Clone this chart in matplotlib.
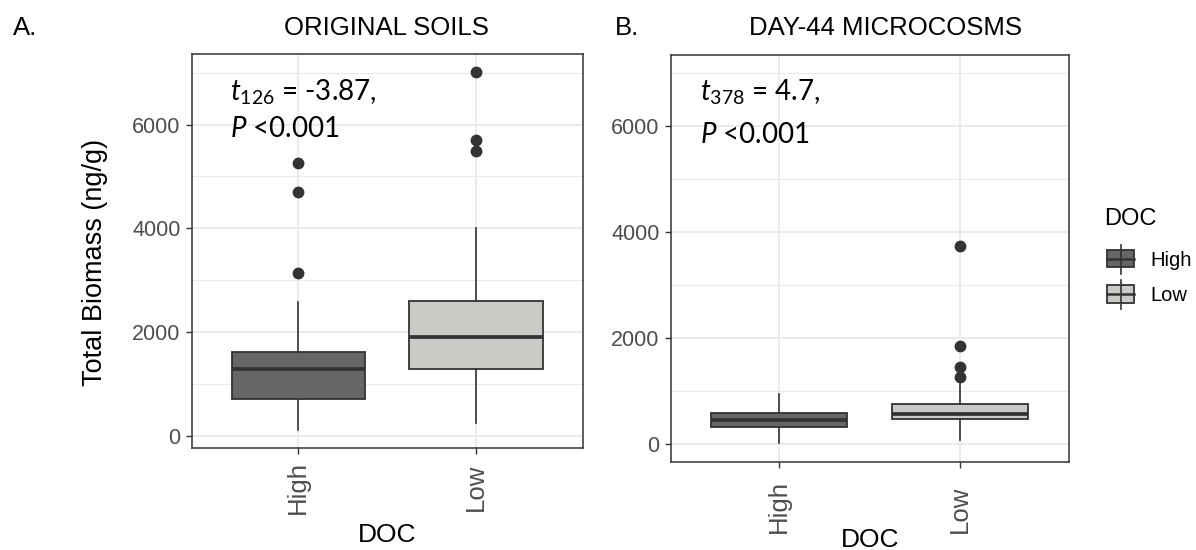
import matplotlib
matplotlib.use("Agg")
import matplotlib.pyplot as plt
from matplotlib.patches import Rectangle
from matplotlib.lines import Line2D

# ---- data -------------------------------------------------------------
categories = ["High", "Low"]

# A. original soils: total biomass (ng/g) box statistics per DOC level
orig_whislo = [118, 240]
orig_q1 = [703, 1279]
orig_med = [1279, 1894]
orig_q3 = [1616, 2604]
orig_whishi = [2584, 4005]
orig_high_outliers = [3132, 4695, 5267]
orig_low_outliers = [5486, 5697, 7015]

# B. day-44 microcosms
micro_whislo = [28, 79]
micro_q1 = [330, 470]
micro_med = [457, 576]
micro_q3 = [583, 759]
micro_whishi = [942, 1136]
micro_high_outliers = []
micro_low_outliers = [1268, 1451, 1859, 3747]

y_ticks = [0, 2000, 4000, 6000]
y_minor = [1000, 3000, 5000, 7000]

panel_titles = ["ORIGINAL SOILS", "DAY-44 MICROCOSMS"]
panel_tags = ["A.", "B."]
stat_lines = [(r"$t_{\mathrm{126}}$ = -3.87,", r"$P$ <0.001"),
              (r"$t_{\mathrm{378}}$ = 4.7,", r"$P$ <0.001")]

# ---- style ------------------------------------------------------------
W, H = 1196, 550
DPI = 100
plt.rcParams["font.family"] = ["Liberation Sans", "DejaVu Sans"]
plt.rcParams["mathtext.fontset"] = "custom"
plt.rcParams["mathtext.it"] = "Lato:italic"
plt.rcParams["mathtext.rm"] = "Lato"

fills = ["#666666", "#CBCAC7"]
edge = "#333333"
grid_c = "#EBEBEB"
tick_c = "#4D4D4D"

fig = plt.figure(figsize=(W / DPI, H / DPI), dpi=DPI)


def fx(px):
    return px / W


def fy(py):
    return 1 - py / H


def make_stats(whislo, q1, med, q3, whishi, fliers):
    out = []
    for i in range(len(categories)):
        out.append(dict(whislo=whislo[i], q1=q1[i], med=med[i], q3=q3[i],
                        whishi=whishi[i], fliers=fliers[i], label=categories[i]))
    return out


stats_a = make_stats(orig_whislo, orig_q1, orig_med, orig_q3, orig_whishi,
                     [orig_high_outliers, orig_low_outliers])
stats_b = make_stats(micro_whislo, micro_q1, micro_med, micro_q3, micro_whishi,
                     [micro_high_outliers, micro_low_outliers])

# axes boxes in pixels: left, top, right, bottom
boxes_px = [(191.5, 54.4, 582.8, 448.3), (670.5, 55.4, 1068.5, 462.3)]
ylims = [(-243, 7354), (-342, 7339)]


def draw_panel(rect, stats, ylim):
    l, t, r, b = rect
    ax = fig.add_axes([fx(l), fy(b), fx(r - l), (b - t) / H])
    ax.set_facecolor("white")
    ax.set_axisbelow(True)
    bp = ax.bxp(stats, positions=[1, 2], widths=0.75, patch_artist=True,
                showcaps=False,
                boxprops=dict(edgecolor=edge, linewidth=1.3),
                whiskerprops=dict(color=edge, linewidth=1.2),
                medianprops=dict(color=edge, linewidth=2.7, solid_capstyle="butt"),
                flierprops=dict(marker="o", markerfacecolor=edge,
                                markeredgecolor=edge, markersize=7.5, linestyle="none"))
    for patch, fc in zip(bp["boxes"], fills):
        patch.set_facecolor(fc)
    ax.set_xlim(0.4, 2.6)
    ax.set_ylim(*ylim)
    ax.set_yticks(y_ticks)
    ax.set_yticks(y_minor, minor=True)
    ax.set_xticks([1, 2])
    ax.set_xticklabels(categories)
    ax.grid(True, which="major", color=grid_c, linewidth=1.4)
    ax.grid(True, which="minor", axis="y", color=grid_c, linewidth=0.8)
    ax.tick_params(which="minor", length=0)
    ax.tick_params(which="major", length=4, width=1.0, color=edge,
                   labelcolor=tick_c)
    ax.tick_params(axis="y", labelsize=15.5, pad=4)
    for s in ax.spines.values():
        s.set_color(edge)
        s.set_linewidth(1.1)
    return ax


ax_a = draw_panel(boxes_px[0], stats_a, ylims[0])
ax_b = draw_panel(boxes_px[1], stats_b, ylims[1])

# x tick labels: vertical text, centred in A, bottom-aligned in B
ax_a.tick_params(axis="x", labelsize=18.5, pad=24, labelrotation=90)
for lab in ax_a.get_xticklabels():
    lab.set_verticalalignment("center")
ax_b.tick_params(axis="x", labelsize=18.5, pad=47, labelrotation=90)
for lab in ax_b.get_xticklabels():
    lab.set_verticalalignment("bottom")

# titles and panel tags
fig.text(fx(13.4), fy(35), panel_tags[0], fontsize=18.5, va="baseline", ha="left")
fig.text(fx(615), fy(35), panel_tags[1], fontsize=18.5, va="baseline", ha="left")
fig.text(fx(386), fy(35), panel_titles[0], fontsize=18.5, va="baseline", ha="center")
fig.text(fx(886), fy(35), panel_titles[1], fontsize=18.5, va="baseline", ha="center")

# axis titles
fig.text(fx(94.7), fy(262), "Total Biomass (ng/g)", fontsize=19.5, rotation=90,
         ha="center", va="center")
fig.text(fx(386.7), fy(541.7), "DOC", fontsize=19, ha="center", va="baseline")
fig.text(fx(870), fy(546.7), "DOC", fontsize=19, ha="center", va="baseline")

# statistics annotations
ann_font = dict(family=["Lato", "DejaVu Sans"], fontsize=20, color="black")
fig.text(fx(229.5), fy(100), stat_lines[0][0], va="baseline", **ann_font)
fig.text(fx(230), fy(137.3), stat_lines[0][1], va="baseline", **ann_font)
fig.text(fx(700), fy(100.7), stat_lines[1][0], va="baseline", **ann_font)
fig.text(fx(700), fy(142.7), stat_lines[1][1], va="baseline", **ann_font)

# legend
fig.text(fx(1104), fy(225.3), "DOC", fontsize=17, ha="left", va="baseline")
key_rows = [(249.8, 267.4, 244.6, 273.7), (284.9, 302.5, 279.6, 308.8)]
kx0, kx1 = 1107.0, 1134.2
for (bt, bb, wt, wb), fc, name in zip(key_rows, fills, categories):
    kxc = (kx0 + kx1) / 2
    fig.add_artist(Line2D([fx(kxc), fx(kxc)], [fy(wt), fy(wb)], color=edge,
                          linewidth=1.2, transform=fig.transFigure))
    fig.add_artist(Rectangle((fx(kx0), fy(bb)), fx(kx1 - kx0), (bb - bt) / H,
                             facecolor=fc, edgecolor=edge, linewidth=1.3,
                             transform=fig.transFigure))
    ym = (bt + bb) / 2
    fig.add_artist(Line2D([fx(kx0), fx(kx1)], [fy(ym), fy(ym)], color=edge,
                          linewidth=1.8, transform=fig.transFigure))
    fig.text(fx(1150.5), fy(ym), name, fontsize=14.5, ha="left", va="center_baseline")

fig.savefig("out.png", dpi=DPI, facecolor="white")
